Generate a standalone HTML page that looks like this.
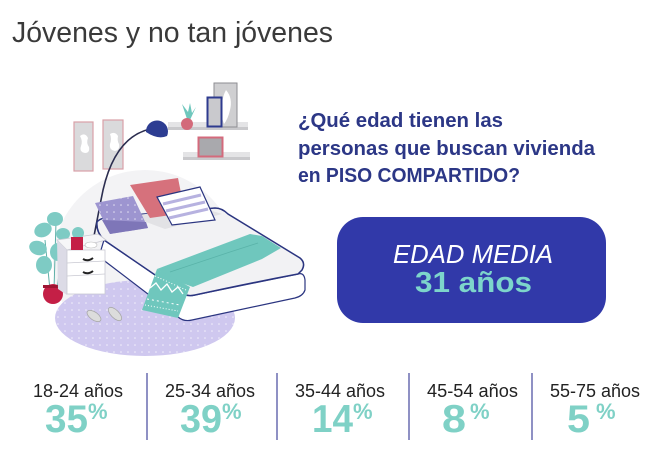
<!DOCTYPE html>
<html><head><meta charset="utf-8"><style>
html,body{margin:0;padding:0;background:#fff;}
svg{display:block;}
text{font-family:"Liberation Sans",sans-serif;}
</style></head><body>
<svg width="659" height="458" viewBox="0 0 659 458" xmlns="http://www.w3.org/2000/svg">
<defs>
<pattern id="dots" width="7" height="7" patternUnits="userSpaceOnUse"><circle cx="2" cy="2" r="0.8" fill="#fff" opacity="0.7"/></pattern>
</defs>
<rect width="659" height="458" fill="#fff"/>
<text x="12" y="42" font-size="29" fill="#3a3a3a" textLength="321" lengthAdjust="spacingAndGlyphs">Jóvenes y no tan jóvenes</text>

<!-- illustration -->
<circle cx="145" cy="262" r="92" fill="#f3f3f5"/>
<ellipse cx="145" cy="318" rx="90" ry="38" fill="#cfc8ef"/>
<ellipse cx="145" cy="318" rx="90" ry="38" fill="url(#dots)"/>

<!-- frames -->
<rect x="74" y="122" width="19" height="49" fill="#dadadc" stroke="#d9a0a8" stroke-width="1.2"/>
<path d="M80,136 q5,-4 8,2 q-2,5 1,9 q1,6 -4,6 q-6,-1 -4,-7 q2,-5 -1,-10z" fill="#fff"/>
<rect x="103" y="120" width="20" height="49" fill="#dadadc" stroke="#d9a0a8" stroke-width="1.2"/>
<path d="M110,134 q5,-3 8,2 q-1,5 1,8 q1,6 -4,7 q-6,-1 -5,-7 q2,-5 0,-10z" fill="#fff"/>

<!-- shelves -->
<rect x="168" y="122" width="80" height="5" fill="#e4e4e6"/>
<rect x="168" y="127" width="80" height="3" fill="#c9c9cc"/>
<rect x="183" y="152" width="67" height="5" fill="#e4e4e6"/>
<rect x="183" y="157" width="67" height="3" fill="#c9c9cc"/>
<!-- plant on shelf -->
<path d="M187,119 L182,104 L188,112 L190,103 L192,113 L196,107 L190,120z" fill="#6fc7bd"/>
<circle cx="187" cy="124" r="6" fill="#d36a7a"/>
<!-- frames on shelf -->
<rect x="214" y="83" width="23" height="44" fill="#cfcfd1" stroke="#8e8e92" stroke-width="1"/>
<path d="M226,90 q7,8 4,20 q-2,9 -6,14 q-4,-10 -2,-20 q1,-9 4,-14z" fill="#fff"/>
<rect x="207.5" y="97.5" width="14" height="29" fill="#c9c9cd" stroke="#2e3b8f" stroke-width="2"/>
<rect x="198.5" y="137.5" width="24" height="19" fill="#a9a9ad" stroke="#d46a7c" stroke-width="2"/>

<!-- lamp -->
<path d="M150,129 Q112,138 101,200 L94,236" fill="none" stroke="#2b2d4f" stroke-width="1.6"/>
<path d="M146,132 A11,11 0 1 1 167,136 Q158,140 146,132z" fill="#2d3d92"/>

<!-- mattress -->
<path d="M104,240 L180,292 Q186,297 195,295 L298,274 Q304,272 305,280 L305,290 Q303,296 295,298 L192,320 Q184,322 178,317 L106,262 Q101,258 101,250 Z" fill="#fff" stroke="#2b3580" stroke-width="1.2"/>
<path d="M97,222 Q100,218 110,217 L215,208 Q222,208 228,214 L300,258 Q306,263 302,270 L298,274 Q250,283 195,295 Q186,297 180,292 L104,240 Q96,232 97,222 Z" fill="#f2f2f4" stroke="#2b3580" stroke-width="1.5"/>
<path d="M130,216 L200,207 L222,214 L165,229z" fill="#e2e2e5"/>
<!-- pillows -->
<polygon points="130,185 178,178 185,213 150,218" fill="#d6717c"/>
<polygon points="95,203 133,196 148,228 110,234" fill="#9d95d0"/>
<polygon points="95,203 133,196 148,228 110,234" fill="url(#dots)"/>
<polygon points="102,220 146,222 148,228 110,234" fill="#7e76b8"/>
<polygon points="157,197 200,187 215,220 172,225" fill="#fff" stroke="#2b3580" stroke-width="1.2"/>
<line x1="163" y1="204" x2="201" y2="195" stroke="#b7b2e0" stroke-width="3"/>
<line x1="166" y1="211" x2="205" y2="202" stroke="#b7b2e0" stroke-width="3"/>
<line x1="169" y1="218" x2="208" y2="209" stroke="#b7b2e0" stroke-width="3"/>
<!-- blanket -->
<polygon points="157,269 250,234 262,236 281,248 262,259 193,287 176,281" fill="#6fc7bd"/>
<polyline points="170,272 200,262 230,252 258,243" fill="none" stroke="#5ab3a9" stroke-width="0.8"/>
<polygon points="157,269 190,287 178,318 142,310" fill="#6fc7bd"/>
<polyline points="150,288 156,283 161,290 167,284 172,292 178,287 183,294" fill="none" stroke="#fff" stroke-width="1.3"/>
<line x1="147" y1="299" x2="180" y2="305" stroke="#fff" stroke-width="1" stroke-dasharray="2,3"/>
<line x1="145" y1="305" x2="178" y2="311" stroke="#fff" stroke-width="1" stroke-dasharray="1,2"/>
<line x1="155" y1="276" x2="186" y2="290" stroke="#fff" stroke-width="1" stroke-dasharray="1,2"/>

<!-- plant -->
<line x1="50" y1="290" x2="45" y2="240" stroke="#5fb0a8" stroke-width="1"/>
<line x1="54" y1="290" x2="56" y2="222" stroke="#5fb0a8" stroke-width="1"/>
<line x1="57" y1="290" x2="62" y2="250" stroke="#5fb0a8" stroke-width="1"/>
<ellipse cx="55" cy="219" rx="8" ry="7" fill="#7ecbc4"/>
<ellipse cx="43" cy="230" rx="9" ry="7" fill="#7ecbc4" transform="rotate(-25 43 230)"/>
<ellipse cx="63" cy="234" rx="7" ry="6" fill="#7ecbc4"/>
<ellipse cx="38" cy="248" rx="9" ry="7" fill="#7ecbc4" transform="rotate(20 38 248)"/>
<ellipse cx="58" cy="252" rx="8" ry="9" fill="#7ecbc4"/>
<ellipse cx="44" cy="265" rx="8" ry="9" fill="#7ecbc4"/>
<ellipse cx="53" cy="294" rx="10" ry="10" fill="#c41f46"/>
<rect x="43" y="285" width="20" height="3" fill="#9e1533"/>

<!-- nightstand -->
<polygon points="57,240 98,234 106,240 67,250" fill="#f6f6f8" stroke="#c9c9d2" stroke-width="0.8"/>
<polygon points="57,240 67,250 67,295 58,289" fill="#dcdbe6"/>
<rect x="67" y="250" width="38" height="44" fill="#fff" stroke="#c9c9d2" stroke-width="0.8"/>
<line x1="67" y1="263" x2="105" y2="261" stroke="#c9c9d2" stroke-width="0.8"/>
<line x1="67" y1="276" x2="105" y2="274" stroke="#c9c9d2" stroke-width="0.8"/>
<path d="M83,259 Q88,262 93,258" fill="none" stroke="#222" stroke-width="2"/>
<path d="M83,272 Q88,275 93,271" fill="none" stroke="#222" stroke-width="2"/>
<ellipse cx="78" cy="233" rx="6" ry="6" fill="#7ecbc4"/>
<rect x="71" y="237" width="12" height="13" fill="#c41f46"/>
<ellipse cx="91" cy="245" rx="6" ry="3" fill="#fff" stroke="#bbb" stroke-width="0.6"/>

<!-- slippers -->
<ellipse cx="94" cy="316" rx="8" ry="4" fill="#dcdcdc" stroke="#a8a8a8" stroke-width="0.8" transform="rotate(35 94 316)"/>
<ellipse cx="115" cy="314" rx="8.5" ry="4" fill="#dcdcdc" stroke="#a8a8a8" stroke-width="0.8" transform="rotate(45 115 314)"/>

<!-- question -->
<g font-weight="bold" font-size="20" fill="#2c3786">
<text x="298" y="127" textLength="205" lengthAdjust="spacingAndGlyphs">¿Qué edad tienen las</text>
<text x="298" y="155" textLength="297" lengthAdjust="spacingAndGlyphs">personas que buscan vivienda</text>
<text x="298" y="182" textLength="222" lengthAdjust="spacingAndGlyphs">en PISO COMPARTIDO?</text>
</g>

<!-- button -->
<rect x="337" y="217" width="269" height="106" rx="26" fill="#3139a9"/>
<text x="473" y="263" text-anchor="middle" font-size="26" font-style="italic" fill="#fff" textLength="160" lengthAdjust="spacingAndGlyphs">EDAD MEDIA</text>
<text x="473.5" y="292" text-anchor="middle" font-size="29" font-weight="bold" fill="#7dd5cb" textLength="117" lengthAdjust="spacingAndGlyphs">31 años</text>

<!-- dividers -->
<g stroke="#8f91c4" stroke-width="2">
<line x1="147" y1="373" x2="147" y2="440"/>
<line x1="277" y1="373" x2="277" y2="440"/>
<line x1="409" y1="373" x2="409" y2="440"/>
<line x1="532" y1="373" x2="532" y2="440"/>
</g>

<!-- labels -->
<g font-size="18" fill="#222" text-anchor="middle">
<text x="78" y="397" textLength="90" lengthAdjust="spacingAndGlyphs">18-24 años</text>
<text x="210" y="397" textLength="90" lengthAdjust="spacingAndGlyphs">25-34 años</text>
<text x="340" y="397" textLength="90" lengthAdjust="spacingAndGlyphs">35-44 años</text>
<text x="472.5" y="397" textLength="91" lengthAdjust="spacingAndGlyphs">45-54 años</text>
<text x="595" y="397" textLength="90" lengthAdjust="spacingAndGlyphs">55-75 años</text>
</g>

<!-- percentages -->
<g font-weight="bold" fill="#7fd1c6">
<text x="45" y="432" font-size="39" textLength="43" lengthAdjust="spacingAndGlyphs">35</text>
<text x="88" y="419" font-size="22">%</text>
<text x="180" y="432" font-size="39" textLength="42" lengthAdjust="spacingAndGlyphs">39</text>
<text x="222" y="419" font-size="22">%</text>
<text x="312" y="432" font-size="39" textLength="41" lengthAdjust="spacingAndGlyphs">14</text>
<text x="353" y="419" font-size="22">%</text>
<text x="442" y="432" font-size="39" textLength="24" lengthAdjust="spacingAndGlyphs">8</text>
<text x="470" y="419" font-size="22">%</text>
<text x="567" y="432" font-size="39" textLength="23" lengthAdjust="spacingAndGlyphs">5</text>
<text x="596" y="419" font-size="22">%</text>
</g>
</svg>
</body></html>
